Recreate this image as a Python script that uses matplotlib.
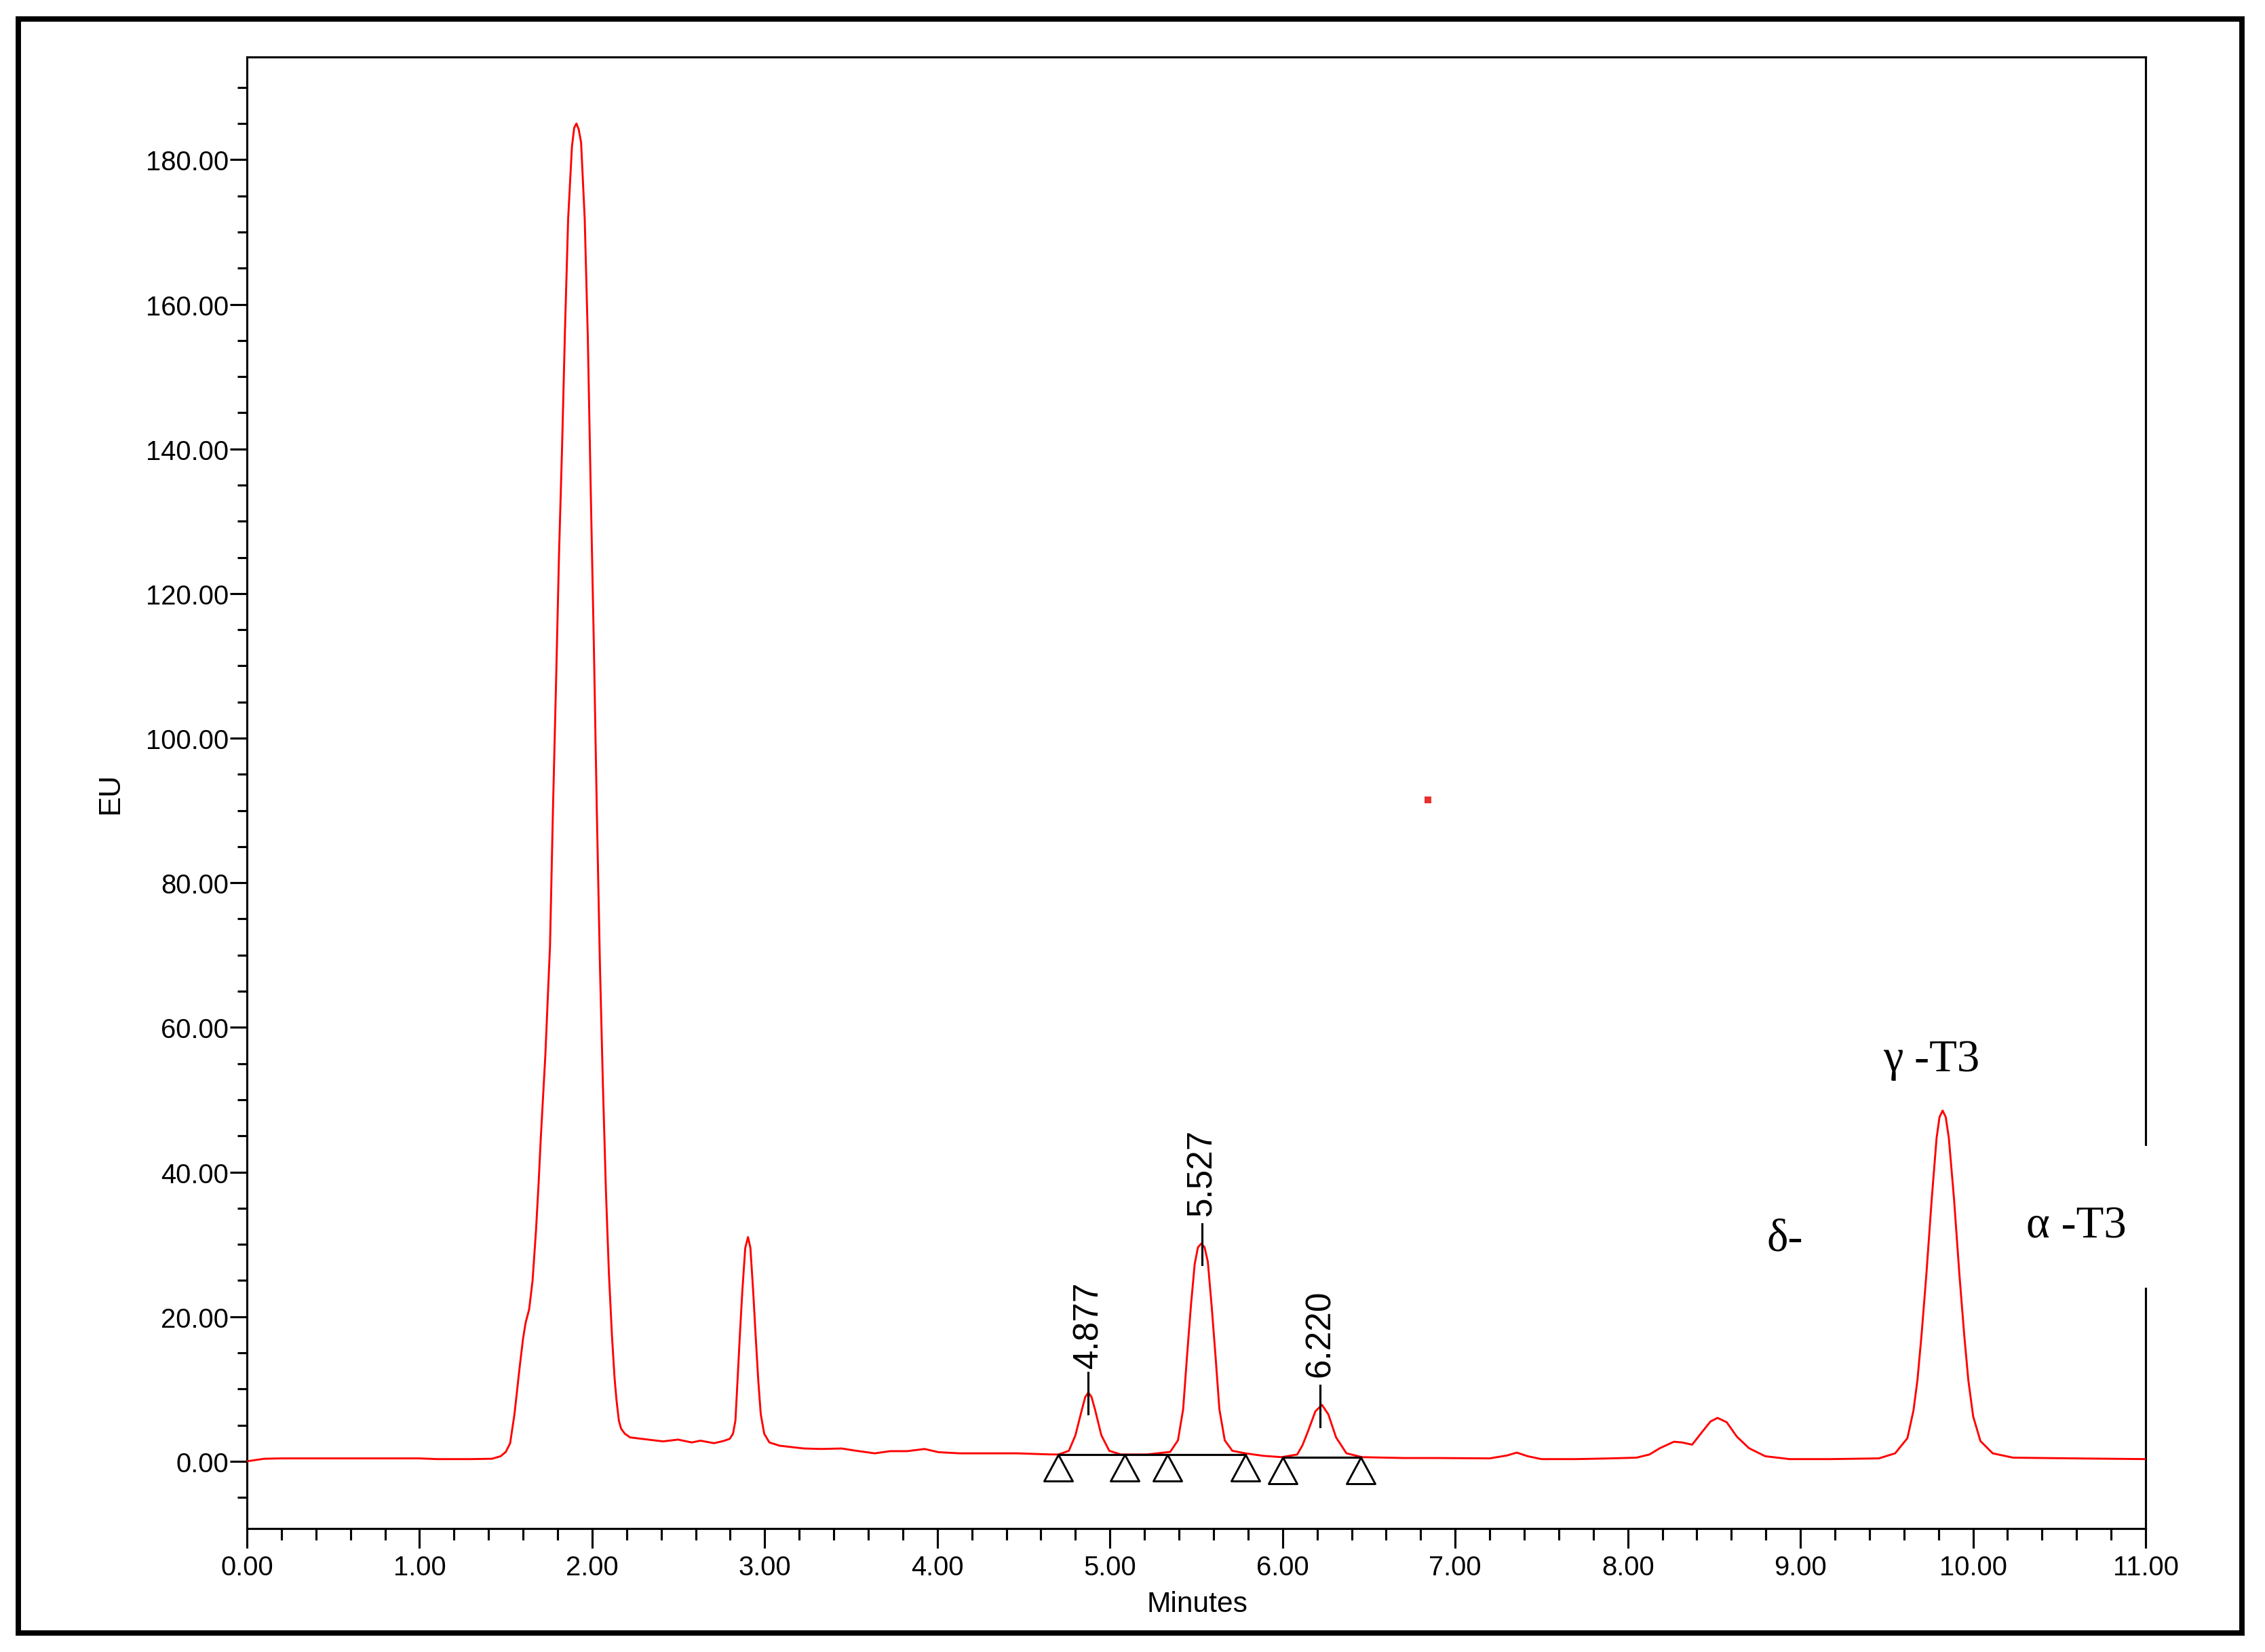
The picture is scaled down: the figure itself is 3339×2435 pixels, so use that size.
import matplotlib
matplotlib.use("Agg")
import matplotlib.pyplot as plt
from matplotlib.patches import Rectangle
from matplotlib.ticker import MultipleLocator, FormatStrFormatter
from matplotlib import font_manager

# ---------------- data ----------------
time_min = [0.00, 0.10, 0.20, 0.50, 1.00, 1.10, 1.30, 1.42, 1.47, 1.50, 1.525, 1.55, 1.58, 1.60,
            1.615, 1.635, 1.655, 1.675, 1.69, 1.703, 1.729, 1.756, 1.773, 1.791, 1.808, 1.826,
            1.843, 1.861, 1.883, 1.896, 1.909, 1.922, 1.936, 1.957, 1.975, 1.992, 2.010, 2.027,
            2.045, 2.062, 2.080, 2.097, 2.115, 2.130, 2.141, 2.155, 2.168, 2.190, 2.220, 2.306,
            2.410, 2.498, 2.577, 2.627, 2.706, 2.760, 2.797, 2.816, 2.830, 2.842, 2.856, 2.870,
            2.887, 2.903, 2.917, 2.933, 2.947, 2.963, 2.977, 2.997, 3.027, 3.087, 3.227, 3.327,
            3.445, 3.525, 3.637, 3.727, 3.826, 3.926, 4.006, 4.127, 4.260, 4.460, 4.650, 4.702,
            4.762, 4.800, 4.838, 4.857, 4.875, 4.893, 4.913, 4.950, 4.996, 5.063, 5.214, 5.349,
            5.394, 5.424, 5.446, 5.469, 5.491, 5.510, 5.529, 5.548, 5.567, 5.589, 5.612, 5.634,
            5.665, 5.709, 5.784, 5.890, 5.995, 6.085, 6.115, 6.145, 6.190, 6.228, 6.265, 6.310,
            6.370, 6.461, 6.700, 6.900, 7.200, 7.300, 7.357, 7.420, 7.500, 7.700, 7.900, 8.050,
            8.126, 8.185, 8.267, 8.315, 8.373, 8.432, 8.479, 8.520, 8.573, 8.632, 8.703, 8.796,
            8.938, 9.173, 9.455, 9.549, 9.620, 9.655, 9.678, 9.702, 9.730, 9.761, 9.789, 9.806,
            9.824, 9.842, 9.860, 9.890, 9.921, 9.949, 9.973, 10.001, 10.043, 10.114, 10.232,
            10.584, 11.000]
eu_signal = [0.0, 0.35, 0.4, 0.4, 0.4, 0.3, 0.3, 0.35, 0.7, 1.3, 2.5, 6.5, 13.0, 17.0,
             19.2, 21.0, 25.0, 32.0, 38.5, 44.9, 56.2, 71.3, 90.1, 107.7, 125.3, 140.4,
             156.7, 171.8, 181.8, 184.4, 185.0, 184.2, 182.4, 171.8, 155.4, 134.1, 112.8, 90.1,
             68.8, 52.4, 37.3, 26.1, 17.3, 11.5, 8.5, 5.6, 4.5, 3.8, 3.3, 3.05,
             2.75, 3.0, 2.6, 2.85, 2.5, 2.8, 3.1, 3.8, 5.6, 11.0, 17.5, 23.5,
             29.5, 31.0, 29.5, 23.5, 17.5, 11.0, 6.5, 3.8, 2.6, 2.15, 1.77, 1.7,
             1.77, 1.47, 1.1, 1.4, 1.4, 1.7, 1.26, 1.1, 1.1, 1.1, 0.95, 0.94,
             1.45, 3.6, 7.2, 8.9, 9.5, 8.9, 7.2, 3.6, 1.45, 0.94, 0.94, 1.3,
             2.9, 7.2, 14.4, 21.5, 27.3, 29.6, 30.1, 29.6, 27.6, 21.5, 14.4, 7.2,
             2.9, 1.45, 1.1, 0.75, 0.57, 0.94, 2.2, 4.0, 6.9, 7.8, 6.5, 3.3,
             1.1, 0.57, 0.45, 0.45, 0.4, 0.8, 1.2, 0.7, 0.3, 0.3, 0.4, 0.5,
             0.94, 1.8, 2.7, 2.6, 2.3, 4.1, 5.5, 6.0, 5.4, 3.4, 1.8, 0.7,
             0.3, 0.3, 0.4, 1.1, 3.2, 7.0, 11.2, 17.5, 25.9, 36.3, 44.7, 47.6,
             48.5, 47.6, 44.7, 36.3, 25.9, 17.5, 11.2, 6.2, 2.8, 1.1, 0.5,
             0.4, 0.3]

# integrated peaks
peak_labels = ["4.877", "5.527", "6.220"]
peak_marker_x = [4.875, 5.532, 6.218]
peak_marker_low = [6.6, 27.2, 4.8]
peak_marker_high = [12.3, 32.8, 10.5]
peak_label_y = [12.9, 34.0, 11.7]

# baselines and peak start/end triangles
baseline1_t = [4.702, 5.785]
baseline1_v = [0.92, 0.92]
baseline2_t = [6.003, 6.454]
baseline2_v = [0.56, 0.56]
triangle_t = [4.702, 5.086, 5.334, 5.785, 6.003, 6.454]
triangle_v = [0.92, 0.92, 0.92, 0.92, 0.56, 0.56]

# compound annotations
compound_text = ["γ -T3", "δ-", "α -T3"]
compound_t = [9.76, 8.91, 10.60]
compound_v = [54.0, 29.2, 31.0]

# stray point
dot_t = [6.842]
dot_v = [91.5]

x_ticks = [0, 1, 2, 3, 4, 5, 6, 7, 8, 9, 10, 11]
y_ticks = [0, 20, 40, 60, 80, 100, 120, 140, 160, 180]

# ---------------- fonts ----------------
avail = {f.name for f in font_manager.fontManager.ttflist}
sans = "Liberation Sans" if "Liberation Sans" in avail else "DejaVu Sans"
narrow = "Liberation Sans Narrow" if "Liberation Sans Narrow" in avail else None
serif = "Liberation Serif" if "Liberation Serif" in avail else "DejaVu Serif"
plt.rcParams["font.family"] = [sans, "DejaVu Sans"]

W, H, DPI = 3339, 2436, 300
fig = plt.figure(figsize=(W / DPI, H / DPI), dpi=DPI)
fig.patch.set_facecolor("white")

ax_l, ax_r, ax_t, ax_b = 364, 3163, 85, 2254
ax = fig.add_axes([ax_l / W, 1 - ax_b / H, (ax_r - ax_l) / W, (ax_b - ax_t) / H])

# outer frame
fig.patches.append(Rectangle((27 / W, 1 - 2408 / H), (3305 - 27) / W, (2408 - 29) / H,
                             transform=fig.transFigure, fill=False, lw=1.9, ec="black",
                             zorder=10))

ax.plot(time_min, eu_signal, color="#ff0000", lw=0.7, zorder=3)

# baselines
ax.plot(baseline1_t, baseline1_v, color="black", lw=0.75, zorder=3.5)
ax.plot(baseline2_t, baseline2_v, color="black", lw=0.75, zorder=3.5)
tri = [(0, 0), (-0.54, -1), (0.54, -1), (0, 0)]
ax.plot(triangle_t, triangle_v, linestyle="none", marker=tri, ms=18.7,
        markerfacecolor="none", markeredgecolor="black", mew=0.7, zorder=3.6, clip_on=False)

# peak markers and labels
lab_family = [narrow, sans] if narrow else [sans]
lab_size = 14.5 if narrow else 12.3
for lab, px, lo, hi, ly in zip(peak_labels, peak_marker_x, peak_marker_low, peak_marker_high, peak_label_y):
    ax.plot([px, px], [lo, hi], color="black", lw=0.75, zorder=3.5)
    ax.text(px, ly, lab, rotation=90, ha="center", va="bottom", fontsize=lab_size,
            family=lab_family, color="black", zorder=4)

ax.plot(dot_t, dot_v, linestyle="none", marker="s", ms=2.2, color="#e83030", mew=0, zorder=3)

# white patch behind alpha label (interrupts right spine)
ax.add_patch(Rectangle((10.25, 24.0), 1.05, 19.6, facecolor="white", edgecolor="none",
                       zorder=5, clip_on=False))

for txt, t, v in zip(compound_text, compound_t, compound_v):
    ax.text(t, v, txt, ha="center", va="baseline", fontsize=16, family=[serif, "DejaVu Serif"],
            color="black", zorder=6, clip_on=False)

ax.set_xlim(0, 11)
ax.set_ylim(-9.3, 194.2)
ax.set_xticks(x_ticks)
ax.set_yticks(y_ticks)
ax.xaxis.set_minor_locator(MultipleLocator(0.2))
ax.yaxis.set_minor_locator(MultipleLocator(5))
ax.xaxis.set_major_formatter(FormatStrFormatter("%.2f"))
ax.yaxis.set_major_formatter(FormatStrFormatter("%.2f"))

for s in ax.spines.values():
    s.set_linewidth(0.75)
    s.set_color("black")

ax.tick_params(axis="x", which="major", direction="out", length=7, width=0.75, pad=2.2,
               labelsize=9.6)
ax.tick_params(axis="x", which="minor", direction="out", length=4, width=0.75)
ax.tick_params(axis="y", which="major", direction="out", length=6, width=0.75, pad=0.5,
               labelsize=9.6)
ax.tick_params(axis="y", which="minor", direction="out", length=3.4, width=0.75)

ax.set_xlabel("Minutes", fontsize=10.2)
ax.set_ylabel("EU", fontsize=10.5)
ax.xaxis.set_label_coords((1765 - ax_l) / (ax_r - ax_l), (ax_b - 2365) / (ax_b - ax_t))
ax.yaxis.set_label_coords((163 - ax_l) / (ax_r - ax_l), 0.5)
ax.xaxis.label.set_va("center")
ax.yaxis.label.set_va("center")

fig.savefig("out.png", dpi=DPI, facecolor="white")
